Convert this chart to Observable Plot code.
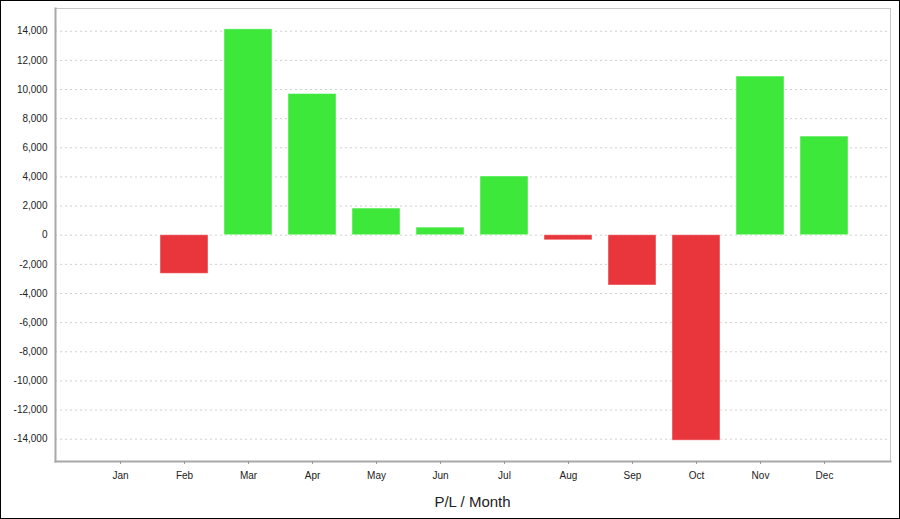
<!DOCTYPE html>
<html>
<head>
<meta charset="utf-8">
<script src="https://cdn.jsdelivr.net/npm/d3@7"></script>
<script src="https://cdn.jsdelivr.net/npm/@observablehq/plot@0.6"></script>
<style>
  html, body { margin: 0; padding: 0; background: #fff; }
  #wrap { position: relative; width: 900px; height: 519px; box-sizing: border-box; border: 1px solid #000; overflow: hidden; font-family: "Liberation Sans", Arial, sans-serif; }
  #title { width: 898px; box-sizing: border-box; padding-left: 45px; text-align: center; font-size: 15px; line-height: 26px; color: #222; }
  svg { display: block; }
</style>
</head>
<body>
<div id="wrap"></div>
<script>
const months = ["Jan","Feb","Mar","Apr","May","Jun","Jul","Aug","Sep","Oct","Nov","Dec"];
const pl = [0, -2650, 14130, 9690, 1830, 520, 4030, -350, -3450, -14100, 10890, 6770];
const yTicks = [-14000,-12000,-10000,-8000,-6000,-4000,-2000,0,2000,4000,6000,8000,10000,12000,14000];
const titleText = "P/L / Month";

const data = months.map((m, i) => ({month: m, value: pl[i]}));
const fmt = d => (d < 0 ? "-" : "") + d3.format(",")(Math.abs(d));

const chart = Plot.plot({
  width: 898,
  height: 488,
  marginLeft: 54,
  marginRight: 9,
  marginTop: 7,
  marginBottom: 28,
  style: {fontFamily: "'Liberation Sans', Arial, sans-serif", fontSize: "10px", color: "#333", background: "#fff"},
  x: {domain: months, paddingInner: 0.25, paddingOuter: 0.648, align: 0.49, label: null},
  y: {domain: [-15530, 15560], label: null},
  marks: [
    Plot.ruleY(yTicks, {stroke: "#d0d0d0", strokeDasharray: "2,3"}),
    Plot.barY(data.filter(d => d.value !== 0), {
      x: "month", y: "value",
      fill: d => d.value >= 0 ? "#3de83a" : "#e8363c",
      stroke: "#fff", strokeOpacity: 0.45, strokeWidth: 1
    }),
    Plot.frame({stroke: "#c8c8c8"}),
    Plot.frame({anchor: "left", stroke: "#a8a8a8", strokeWidth: 2}),
    Plot.frame({anchor: "bottom", stroke: "#a8a8a8", strokeWidth: 2}),
    Plot.axisY({ticks: yTicks, tickFormat: fmt, tickSize: 0, tickPadding: 8, label: null, fill: "#222"}),
    Plot.axisX({tickSize: 3, tickPadding: 7, stroke: "#999", label: null, fill: "#222"})
  ]
});

const wrap = document.getElementById("wrap");
wrap.appendChild(chart);
const t = document.createElement("div");
t.id = "title";
t.textContent = titleText;
wrap.appendChild(t);
</script>
</body>
</html>
